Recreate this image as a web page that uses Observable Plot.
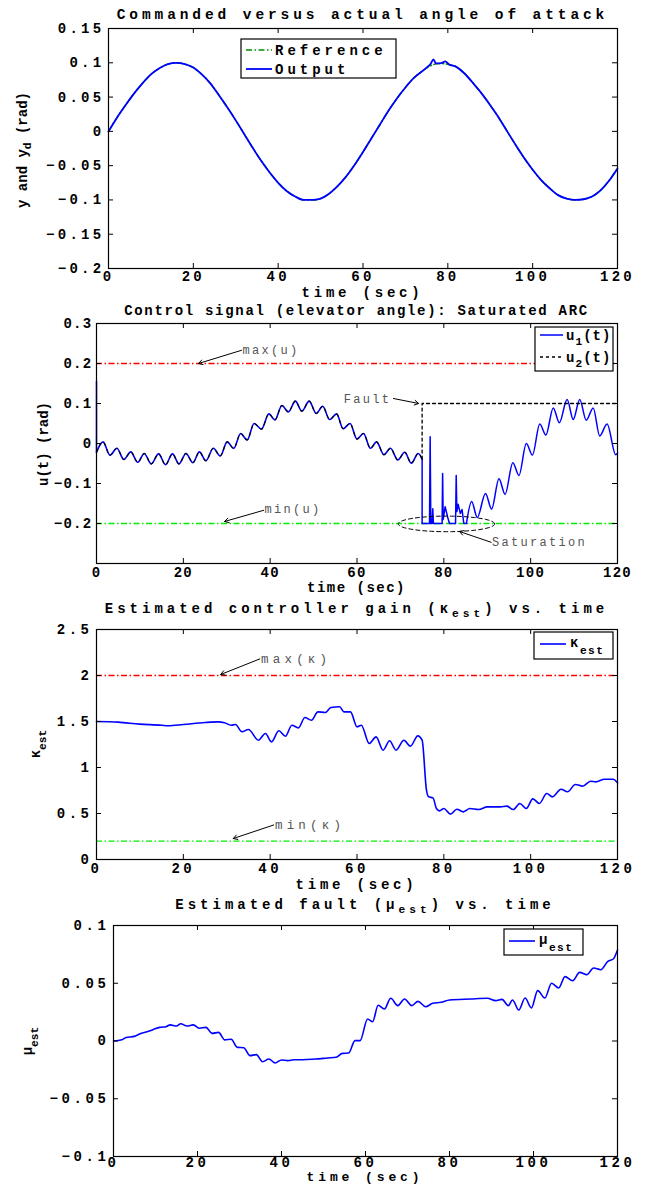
<!DOCTYPE html>
<html><head><meta charset="utf-8">
<script src="https://cdn.jsdelivr.net/npm/d3@7"></script>
<script src="https://cdn.jsdelivr.net/npm/@observablehq/plot@0.6"></script>
<style>
body{margin:0;background:#fff;}
#fig{position:relative;width:645px;height:1186px;overflow:hidden;}
#fig svg{position:absolute;left:0;}
</style></head><body><div id="fig"></div>
<script>
// ---------- shared ----------
const timeTicks = [0, 20, 40, 60, 80, 100, 120];

// ---------- panel 1: commanded vs actual angle of attack ----------
const angleTicks = [-0.2, -0.15, -0.1, -0.05, 0, 0.05, 0.1, 0.15];
const outT = [0,2,4,6,8,10,12,14,16,18,20,22,24,26,28,30,32,34,36,38,40,42,44,46,48,50,52,54,56,58,60,62,64,66,68,70,72,74,75,76,76.6,77.2,78,78.6,79.4,80.2,82,84,86,88,90,92,94,96,98,100,102,104,106,108,110,112,114,116,118,120];
const outY = [0,0.02,0.038,0.055,0.07,0.083,0.092,0.098,0.1,0.098,0.093,0.083,0.07,0.053,0.035,0.016,-0.004,-0.024,-0.043,-0.06,-0.075,-0.087,-0.095,-0.1,-0.1,-0.098,-0.091,-0.08,-0.066,-0.049,-0.03,-0.01,0.01,0.03,0.048,0.064,0.078,0.088,0.093,0.099,0.105,0.099,0.099,0.1,0.102,0.098,0.094,0.084,0.07,0.055,0.038,0.02,0,-0.02,-0.039,-0.056,-0.071,-0.083,-0.093,-0.098,-0.1,-0.099,-0.095,-0.086,-0.072,-0.054];
const refT = [0,2,4,6,8,10,12,14,16,18,20,22,24,26,28,30,32,34,36,38,40,42,44,46,48,50,52,54,56,58,60,62,64,66,68,70,72,74,76,78,80,82,84,86,88,90,92,94,96,98,100,102,104,106,108,110,112,114,116,118,120];
const refY = [0,0.02,0.038,0.055,0.07,0.083,0.092,0.098,0.1,0.098,0.093,0.083,0.07,0.053,0.035,0.016,-0.004,-0.024,-0.043,-0.06,-0.075,-0.087,-0.095,-0.1,-0.1,-0.098,-0.091,-0.08,-0.066,-0.049,-0.03,-0.01,0.01,0.03,0.048,0.064,0.078,0.088,0.096,0.099,0.098,0.094,0.084,0.07,0.055,0.038,0.02,0,-0.02,-0.039,-0.056,-0.071,-0.083,-0.093,-0.098,-0.1,-0.099,-0.095,-0.086,-0.072,-0.054];

// ---------- panel 2: control signal ----------
const uTicks = [-0.2, -0.1, 0, 0.1, 0.2, 0.3];
const uLimits = [0.2, -0.2];
const u1StartT = [0, 0];
const u1StartV = [0.155, -0.022];
const u1PreT = [0,1.5,3.1,4.7,6.3,7.9,9.5,11,12.6,14.3,15.9,17.5,19,20.6,22.2,23.7,25.2,26.9,28.5,30.1,31.6,33.2,34.7,36.3,38,39.7,41.1,42.7,44.2,45.8,47.3,49,50.6,52.1,53.7,55.3,56.8,58.4,60,61.5,63.1,64.5,66.2,67.7,69.4,71,72.5,74.1,75];
const u1PreV = [-0.022,0.004,-0.029,-0.012,-0.04,-0.021,-0.047,-0.025,-0.051,-0.026,-0.053,-0.026,-0.051,-0.025,-0.048,-0.021,-0.043,-0.012,-0.031,0.004,-0.012,0.025,0.009,0.05,0.036,0.074,0.059,0.095,0.079,0.106,0.081,0.106,0.075,0.093,0.06,0.074,0.037,0.05,0.011,0.025,-0.012,0.004,-0.028,-0.012,-0.041,-0.022,-0.049,-0.025,-0.039];
const u1FaultT = [75,75,76.7,76.85,77.0,77.3,77.45,77.6,79.6,79.72,79.85,80.3,80.9,81.3,82.7,82.85,83.0,83.3,83.8,84.2,84.6,85.2];
const u1FaultV = [-0.039,-0.2,-0.2,0.017,-0.2,-0.2,-0.163,-0.2,-0.2,-0.075,-0.19,-0.158,-0.185,-0.2,-0.2,-0.08,-0.17,-0.152,-0.175,-0.165,-0.2,-0.2];
const u1PostT = [85.2,86.4,87.7,89.6,91,92.7,94.1,95.9,97.3,99,100.4,102.1,103.5,105.2,106.6,108.4,109.8,111.3,112.8,114.4,115.9,117.6,119.6,120];
const u1PostV = [-0.2,-0.145,-0.185,-0.125,-0.164,-0.088,-0.127,-0.048,-0.08,0.0,-0.029,0.049,0.021,0.089,0.052,0.11,0.06,0.11,0.058,0.089,0.019,0.049,-0.028,-0.024];
const u2FaultT = [75, 75, 120];
const u2FaultV = [-0.039, 0.1, 0.1];
const uNotes = [
  {label: "max(u)", t: 33.6, v: 0.2325, anchor: "start", t1: 33.4, v1: 0.233, t2: 23.5, v2: 0.2},
  {label: "min(u)", t: 38.7, v: -0.165, anchor: "start", t1: 38.5, v1: -0.167, t2: 29.5, v2: -0.195},
  {label: "Fault", t: 67.9, v: 0.11, anchor: "end", t1: 68.4, v1: 0.1125, t2: 74.2, v2: 0.1},
  {label: "Saturation", t: 91.1, v: -0.2475, anchor: "start", t1: 90.9, v1: -0.247, t2: 83.6, v2: -0.22}
];
const satRegion = {t: 80.6, v: -0.201, rt: 11.1, rv: 0.0195};

// ---------- panel 3: estimated controller gain ----------
const kTicks = [0, 0.5, 1, 1.5, 2, 2.5];
const kLimits = [2, 0.2];
const kT = [0,5,10,15,16.5,20,25,28,29.5,31,32,33.5,35,37.3,38.9,40.3,42,43.5,45,46.5,48,49.5,51,52.7,54,56,57,58.5,60,61,62.8,64.4,66,67.5,69,70.8,72.3,74,75,76,76.5,77.5,78.3,79,80,81.5,83,84.5,86,88,90,93,94.5,96,97.5,99,100.5,102,103.7,105,107,108.5,110.3,112,113.8,115,117,119,120];
const kV = [1.5,1.493,1.471,1.46,1.453,1.467,1.489,1.496,1.486,1.46,1.467,1.388,1.413,1.297,1.37,1.279,1.399,1.34,1.46,1.431,1.543,1.514,1.605,1.598,1.652,1.66,1.605,1.605,1.442,1.46,1.261,1.333,1.188,1.29,1.188,1.297,1.232,1.344,1.297,0.754,0.681,0.67,0.554,0.529,0.554,0.493,0.547,0.518,0.554,0.543,0.572,0.572,0.58,0.543,0.609,0.554,0.659,0.609,0.717,0.681,0.764,0.736,0.815,0.797,0.851,0.844,0.873,0.873,0.833];
const kNotes = [
  {label: "max(\u03ba)", t: 37.9, v: 2.174, anchor: "start", t1: 37.6, v1: 2.18, t2: 28.6, v2: 2.011},
  {label: "min(\u03ba)", t: 41.1, v: 0.37, anchor: "start", t1: 40.8, v1: 0.375, t2: 31.5, v2: 0.228}
];

// ---------- panel 4: estimated fault ----------
const muTicks = [-0.1, -0.05, 0, 0.05, 0.1];
const muT = [0,2,3,5,6.5,8,9.5,11,12.5,13.5,15,16,17.5,19,20.5,22,23.5,25,26.5,28,29.5,31,32.5,34,35.5,37,38.5,40,41.5,43,45,48,51,53,54.5,56,57.5,58.7,60.5,61.7,63,64.5,66,67.7,69.3,71,72.5,74.3,76,78,80,85,89,91,92.5,94,95,96.5,98,99.5,101,102.7,104.3,106,107.5,109.3,111,112.7,114.3,116,117.7,119,120];
const muV = [0,0.001,0.003,0.004,0.0066,0.008,0.01,0.0118,0.0124,0.014,0.013,0.015,0.013,0.014,0.011,0.0118,0.0066,0.0075,0.001,0.0015,-0.0055,-0.0058,-0.0127,-0.0118,-0.0179,-0.0156,-0.019,-0.0164,-0.017,-0.0162,-0.0162,-0.0156,-0.0147,-0.0141,-0.0107,-0.0104,0.0003,0.0003,0.019,0.0167,0.031,0.0277,0.037,0.0306,0.0364,0.0306,0.0343,0.0297,0.0326,0.0335,0.0355,0.0364,0.037,0.035,0.036,0.0306,0.0355,0.0268,0.0372,0.0286,0.0436,0.0372,0.05,0.0459,0.0557,0.0522,0.0594,0.0574,0.0632,0.0617,0.069,0.071,0.0788];

// ---------- helpers ----------
const FONT = "'Liberation Mono', 'Courier New', monospace";
const BLUE = "#0000ff";
const DASHDOT = "6,2.5,1.5,2.5";
const fig = document.getElementById("fig");
const rows = (T, V) => T.map((t, i) => ({t, v: V[i]}));
const fmt = d => d === 0 ? "0" : (d < 0 ? "\u2212" : "") + String(Math.abs(d));

function makePanel(cfg) {
  const {top, height, mt, mb, ml, mr = 28, yDomain, yTicks, ls, pad = 4, marks} = cfg;
  const plotH = height - mt - mb, plotW = 645 - ml - mr;
  const svg = Plot.plot({
    width: 645, height, marginTop: mt, marginBottom: mb, marginLeft: ml, marginRight: mr,
    style: {fontFamily: FONT, fontSize: "14px", fontWeight: "bold", letterSpacing: ls + "px",
            color: "black", background: "transparent", overflow: "visible"},
    x: {domain: [0, 120], label: null},
    y: {domain: yDomain, label: null},
    marks: [
      ...marks,
      Plot.tickX(timeTicks, {x: d => d, insetTop: plotH - 5, stroke: "black"}),
      Plot.tickX(timeTicks, {x: d => d, insetBottom: plotH - 5, stroke: "black"}),
      Plot.tickY(yTicks, {y: d => d, insetRight: plotW - 5, stroke: "black"}),
      Plot.tickY(yTicks, {y: d => d, insetLeft: plotW - 5, stroke: "black"}),
      Plot.frame({stroke: "black", strokeWidth: 1.2}),
      Plot.axisX(timeTicks, {anchor: "bottom", tickSize: 0, tickPadding: pad, tickFormat: d => String(d)}),
      Plot.axisY(yTicks, {anchor: "left", tickSize: 0, tickPadding: 4, tickFormat: fmt})
    ]
  });
  svg.style.top = top + "px";
  fig.appendChild(svg);
  return svg;
}

function addRich(svg, x, y, parts, o = {}) {
  const fs = o.size ?? 14;
  const text = d3.select(svg).append("text")
    .attr("transform", `translate(${x},${y})${o.rotate ? " rotate(-90)" : ""}`)
    .attr("text-anchor", o.anchor ?? "middle")
    .attr("dy", "0.35em")
    .attr("fill", o.fill ?? "black")
    .style("font-family", FONT).style("font-size", fs + "px")
    .style("font-weight", o.weight ?? "bold")
    .style("letter-spacing", (o.ls ?? 0) + "px");
  const sh = o.subShift ?? 4;
  let inSub = false;
  for (const p of [].concat(parts)) {
    const ts = text.append("tspan");
    if (typeof p === "string") { ts.text(p); if (inSub) ts.attr("dy", -sh); inSub = false; }
    else { ts.text(p.sub).attr("dy", sh).style("font-size", (fs * 0.8) + "px"); inSub = true; }
  }
}
function legendBox(svg, x0, y0, x1, y1) {
  d3.select(svg).append("rect").attr("x", x0).attr("y", y0).attr("width", x1 - x0).attr("height", y1 - y0)
    .attr("fill", "white").attr("stroke", "black").attr("stroke-width", 1.2);
}
function legendLine(svg, x0, x1, y, stroke, dash, w = 1.6) {
  d3.select(svg).append("line").attr("x1", x0).attr("x2", x1).attr("y1", y).attr("y2", y)
    .attr("stroke", stroke).attr("stroke-width", w).attr("stroke-dasharray", dash || null);
}
function styleNotes(svg, ls) {
  d3.select(svg).selectAll('g[aria-label="text"] text').style("letter-spacing", ls + "px");
}
const noteMarks = (notes, size) => [
  Plot.arrow(notes, {x1: "t1", y1: "v1", x2: "t2", y2: "v2", stroke: "black", strokeWidth: 1, headLength: 7}),
  Plot.text(notes.filter(d => d.anchor === "start"), {x: "t", y: "v", text: "label", textAnchor: "start", lineAnchor: "middle",
                    fill: "#555", fontWeight: "normal", fontSize: size}),
  Plot.text(notes.filter(d => d.anchor === "end"), {x: "t", y: "v", text: "label", textAnchor: "end", lineAnchor: "middle",
                    fill: "#555", fontWeight: "normal", fontSize: size})
];

// ---------- panel 1 ----------
const p1 = makePanel({
  top: 0, height: 300, mt: 28, mb: 32, ml: 108, yDomain: [-0.2, 0.15], yTicks: angleTicks, ls: 3.3, pad: 3,
  marks: [
    Plot.line(rows(refT, refY), {x: "t", y: "v", stroke: "#009000", strokeWidth: 1.5, strokeDasharray: DASHDOT, curve: "monotone-x"}),
    Plot.line(rows(outT, outY), {x: "t", y: "v", stroke: BLUE, strokeWidth: 1.8, curve: "monotone-x"})
  ]
});
addRich(p1, 362.5, 14, "Commanded versus actual angle of attack", {size: 14.5, ls: 3.9});
addRich(p1, 362.5, 292, "time (sec)", {ls: 3.8});
addRich(p1, 22, 150, ["y and y", {sub: "d"}, " (rad)"], {rotate: true});
legendBox(p1, 241, 39, 396, 78);
legendLine(p1, 246, 272, 50, "#009000", DASHDOT, 1.5);
addRich(p1, 275, 50, "Reference", {anchor: "start", ls: 4});
legendLine(p1, 246, 272, 69, BLUE, null, 1.8);
addRich(p1, 275, 69, "Output", {anchor: "start", ls: 4});

// ---------- panel 2 ----------
const ellipse = d3.range(0, 361, 6).map(a => ({
  t: satRegion.t + satRegion.rt * Math.cos(a * Math.PI / 180),
  v: satRegion.v + satRegion.rv * Math.sin(a * Math.PI / 180)
}));
const p2 = makePanel({
  top: 297, height: 296, mt: 26, mb: 30, ml: 96, yDomain: [-0.3, 0.3], yTicks: uTicks, ls: 1.3,
  marks: [
    Plot.ruleY([uLimits[0]], {stroke: "#ff0000", strokeWidth: 1.3, strokeDasharray: DASHDOT}),
    Plot.ruleY([uLimits[1]], {stroke: "#00ee00", strokeWidth: 1.3, strokeDasharray: DASHDOT}),
    Plot.line(rows(u1StartT, u1StartV), {x: "t", y: "v", stroke: BLUE, strokeWidth: 1.5}),
    Plot.line(rows(u1PreT, u1PreV), {x: "t", y: "v", stroke: BLUE, strokeWidth: 1.6, curve: "monotone-x"}),
    Plot.line(rows(u1FaultT, u1FaultV), {x: "t", y: "v", stroke: BLUE, strokeWidth: 1.5}),
    Plot.line(rows(u1PostT, u1PostV), {x: "t", y: "v", stroke: BLUE, strokeWidth: 1.5, curve: "monotone-x"}),
    Plot.line(rows(u1PreT, u1PreV), {x: "t", y: "v", stroke: "black", strokeWidth: 1.1, strokeDasharray: "3,4", curve: "monotone-x"}),
    Plot.line(rows(u2FaultT, u2FaultV), {x: "t", y: "v", stroke: "black", strokeWidth: 1.3, strokeDasharray: "3,3"}),
    Plot.line(ellipse, {x: "t", y: "v", stroke: "black", strokeWidth: 1, strokeDasharray: "4,3", curve: "linear"}),
    ...noteMarks(uNotes, 12)
  ]
});
styleNotes(p2, 2.3);
addRich(p2, 356.5, 13, "Control signal (elevator angle): Saturated ARC", {ls: 1.7});
addRich(p2, 356.5, 290, "time (sec)", {ls: 1.5});
addRich(p2, 43, 147, "u(t) (rad)", {rotate: true});
legendBox(p2, 535, 30, 613, 74);
legendLine(p2, 540, 563, 38, BLUE, null, 1.5);
addRich(p2, 566, 38, ["u", {sub: "1"}, "(t)"], {anchor: "start", ls: 1, subShift: 5});
legendLine(p2, 540, 563, 60, "black", "3,3", 1.3);
addRich(p2, 566, 60, ["u", {sub: "2"}, "(t)"], {anchor: "start", ls: 1, subShift: 5});

// ---------- panel 3 ----------
const p3 = makePanel({
  top: 593, height: 297, mt: 36, mb: 31, ml: 96, yDomain: [0, 2.5], yTicks: kTicks, ls: 3.5,
  marks: [
    Plot.ruleY([kLimits[0]], {stroke: "#ff0000", strokeWidth: 1.3, strokeDasharray: DASHDOT}),
    Plot.ruleY([kLimits[1]], {stroke: "#00ee00", strokeWidth: 1.3, strokeDasharray: DASHDOT}),
    Plot.line(rows(kT, kV), {x: "t", y: "v", stroke: BLUE, strokeWidth: 1.6, curve: "monotone-x"}),
    ...noteMarks(kNotes, 12.5)
  ]
});
styleNotes(p3, 4.2);
addRich(p3, 356.5, 15, ["Estimated controller gain (\u03ba", {sub: "est"}, ") vs. time"], {ls: 4});
addRich(p3, 356.5, 291, "time (sec)", {ls: 3.8});
addRich(p3, 35, 151, ["\u03ba", {sub: "est"}], {rotate: true, subShift: 6});
legendBox(p3, 534, 39, 613, 66);
legendLine(p3, 540, 566, 51, BLUE, null, 1.6);
addRich(p3, 570, 49, ["\u03ba", {sub: "est"}], {anchor: "start", ls: 1.5, subShift: 7});

// ---------- panel 4 ----------
const p4 = makePanel({
  top: 890, height: 296, mt: 35, mb: 30, ml: 113, yDomain: [-0.1, 0.1], yTicks: muTicks, ls: 3.6, pad: 1,
  marks: [
    Plot.line(rows(muT, muV), {x: "t", y: "v", stroke: BLUE, strokeWidth: 1.6, curve: "monotone-x"})
  ]
});
addRich(p4, 365, 14, ["Estimated fault (\u03bc", {sub: "est"}, ") vs. time"], {ls: 4});
addRich(p4, 365, 286, "time (sec)", {ls: 3.9, size: 13});
addRich(p4, 27, 151, ["\u03bc", {sub: "est"}], {rotate: true, subShift: 6});
legendBox(p4, 504, 39, 583, 65);
legendLine(p4, 509, 535, 51, BLUE, null, 1.6);
addRich(p4, 539, 49, ["\u03bc", {sub: "est"}], {anchor: "start", ls: 1.5, subShift: 7});
</script></body></html>
